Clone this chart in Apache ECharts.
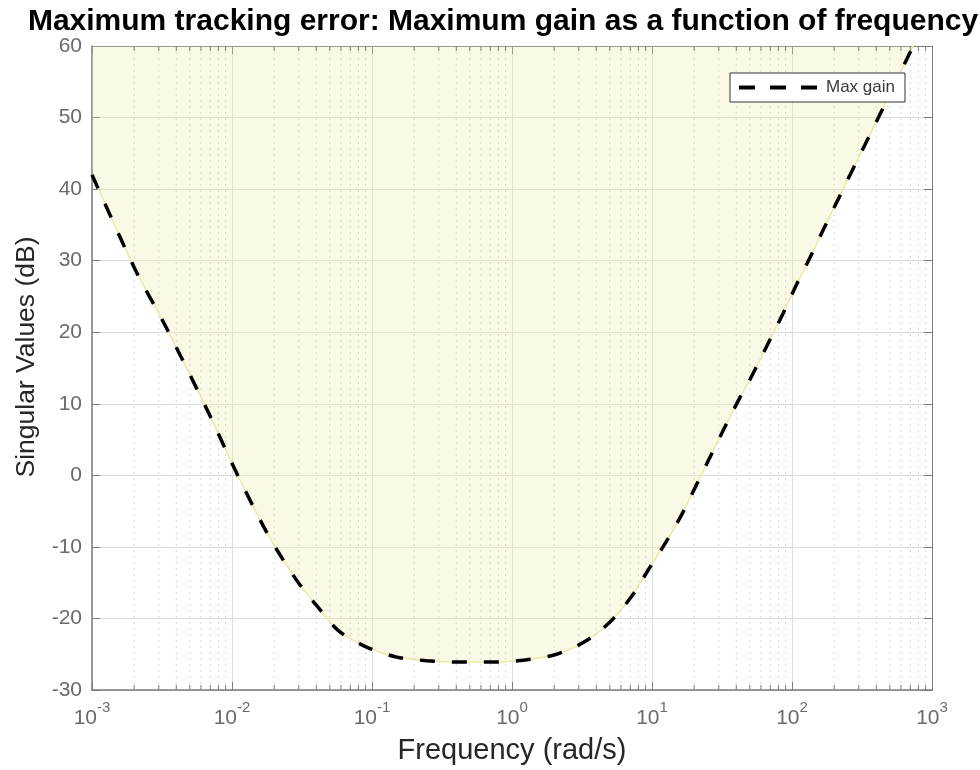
<!DOCTYPE html>
<html>
<head>
<meta charset="utf-8">
<script src="https://cdn.jsdelivr.net/npm/echarts@6/dist/echarts.min.js"></script>
<style>html,body{margin:0;padding:0;background:#fff;}#c{width:980px;height:770px;}</style>
</head>
<body>
<div id="c"></div>
<script>
// Frequency points (rad/s)
var freq = [0.001, 0.00203, 0.00332, 0.00678, 0.0105, 0.01675, 0.0220, 0.0298, 0.0414, 0.0575,
            0.0916, 0.150, 0.246, 0.426, 0.736, 1.24, 2.08, 3.34, 5.01, 7.16,
            9.42, 12.7, 16.3, 20.8, 25.9, 32.3, 42.5, 50.1, 67.8, 86.7,
            108, 135, 167, 214, 282, 332, 426, 697, 794];
// Max gain (dB)
var maxGain = [42.0, 28.8, 21.0, 8.8, 0.8, -7.1, -11.1, -15.0, -18.5, -21.7,
               -24.0, -25.4, -25.9, -26.1, -26.1, -25.8, -25.0, -23.2, -20.5, -16.9,
               -13.2, -9.2, -5.5, -1.3, 2.5, 6.3, 10.9, 13.4, 18.5, 22.7,
               26.7, 30.5, 34.3, 38.6, 43.4, 46.2, 50.5, 59.1, 61.4];
// Minor log grid positions
var minorFreq = [];
var decades = [0.001, 0.01, 0.1, 1, 10, 100];
var minorMult = [2, 3, 4, 5, 6, 7, 8, 9];
decades.forEach(function (d) { minorMult.forEach(function (m) { minorFreq.push(d * m); }); });

var seriesName = 'Max gain';

var pts = freq.map(function (f, i) { return [f, maxGain[i]]; });

var chart = echarts.init(document.getElementById('c'), null, {renderer: 'canvas'});
var axisGray = '#7a7a7a';
var labelGray = '#6a6a6a';
var FONT = 'Liberation Sans, Arial, Helvetica, sans-serif';

function xLabel(v) {
  var e = Math.round(Math.log(v) / Math.LN10);
  return '{b|10}{s|' + e + '}';
}

var option = {
  backgroundColor: '#fff',
  animation: false,
  title: {
    text: 'Maximum tracking error: Maximum gain as a function of frequency',
    left: 498, top: 2, textAlign: 'center',
    textStyle: {fontFamily: FONT, fontWeight: 'bold', fontSize: 30, color: '#000'}
  },
  legend: {
    data: [seriesName],
    left: 730, top: 73,
    z: 20,
    orient: 'horizontal',
    backgroundColor: '#fff',
    borderColor: '#333', borderWidth: 1, borderRadius: 0,
    padding: [6, 10, 6, 7],
    itemWidth: 80, itemHeight: 16, itemGap: 4,
    textStyle: {fontFamily: FONT, fontSize: 17, color: '#3a3a3a', padding: [0, 0, 0, 2]},
    itemStyle: {opacity: 0},
    lineStyle: {type: [16, 15], width: 4, color: '#000'}
  },
  grid: {left: 92, right: 48, top: 46, bottom: 79, containLabel: false},
  xAxis: [{
    type: 'log', logBase: 10, min: 0.001, max: 1000,
    name: 'Frequency (rad/s)', nameLocation: 'middle', nameGap: 46,
    nameTextStyle: {fontFamily: FONT, fontSize: 29, color: '#262626'},
    axisLine: {show: true, onZero: false, lineStyle: {color: axisGray, width: 1.5}},
    axisTick: {show: true, inside: true, length: 8, lineStyle: {color: axisGray, width: 1}},
    axisLabel: {
      margin: 10, formatter: xLabel,
      rich: {
        b: {fontFamily: FONT, fontSize: 21, color: labelGray, verticalAlign: 'bottom', padding: [8, 0, 0, 0]},
        s: {fontFamily: FONT, fontSize: 15, color: labelGray, verticalAlign: 'top', padding: [0, 0, 10, 0]}
      }
    },
    splitLine: {show: true, lineStyle: {color: '#dedede', width: 1}}
  }, {
    type: 'log', logBase: 10, min: 0.001, max: 1000, position: 'top',
    axisLine: {show: true, onZero: false, lineStyle: {color: axisGray, width: 1}},
    axisTick: {show: true, inside: true, length: 8, lineStyle: {color: axisGray, width: 1}},
    axisLabel: {show: false}, splitLine: {show: false}
  }],
  yAxis: [{
    type: 'value', min: -30, max: 60, interval: 10,
    name: 'Singular Values (dB)', nameLocation: 'middle', nameGap: 52, nameRotate: 90,
    nameTextStyle: {fontFamily: FONT, fontSize: 26.5, color: '#262626', padding: [0, 0, 0, 22]},
    axisLine: {show: true, onZero: false, lineStyle: {color: axisGray, width: 1.5}},
    axisTick: {show: true, inside: true, length: 8, lineStyle: {color: axisGray, width: 1}},
    axisLabel: {margin: 10, fontFamily: FONT, fontSize: 21, color: labelGray},
    splitLine: {show: true, lineStyle: {color: '#dedede', width: 1}}
  }, {
    type: 'value', min: -30, max: 60, interval: 10, position: 'right',
    axisLine: {show: true, onZero: false, lineStyle: {color: axisGray, width: 1}},
    axisTick: {show: true, inside: true, length: 8, lineStyle: {color: axisGray, width: 1}},
    axisLabel: {show: false}, splitLine: {show: false}
  }],
  series: [{
    name: 'fill',
    type: 'line',
    data: pts,
    symbol: 'none',
    smooth: 0.3,
    clip: true,
    z: 1,
    lineStyle: {color: '#ece8a8', width: 1.5},
    areaStyle: {origin: 'end', color: 'rgba(238,233,160,0.4)'},
    silent: true
  }, {
    name: 'minor',
    type: 'custom',
    data: minorFreq.map(function (f) { return [f, 0]; }),
    encode: {x: 0, y: 1},
    z: 2,
    silent: true,
    clip: true,
    renderItem: function (params, api) {
      var x = api.value(0);
      var top = api.coord([x, 60]);
      var bot = api.coord([x, -30]);
      return {
        type: 'group',
        children: [{
          type: 'line',
          shape: {x1: top[0], y1: top[1], x2: bot[0], y2: bot[1]},
          style: {stroke: '#d6d6d6', lineWidth: 1, lineDash: [2, 4]}
        }, {
          type: 'line',
          shape: {x1: bot[0], y1: bot[1], x2: bot[0], y2: bot[1] - 5},
          style: {stroke: axisGray, lineWidth: 1}
        }, {
          type: 'line',
          shape: {x1: top[0], y1: top[1], x2: top[0], y2: top[1] + 5},
          style: {stroke: axisGray, lineWidth: 1}
        }]
      };
    }
  }, {
    name: seriesName,
    type: 'line',
    data: pts,
    symbol: 'none',
    smooth: 0.3,
    clip: true,
    z: 5,
    lineStyle: {color: '#000', width: 3.5, type: [15, 17]}
  }]
};
chart.setOption(option);
</script>
</body>
</html>
